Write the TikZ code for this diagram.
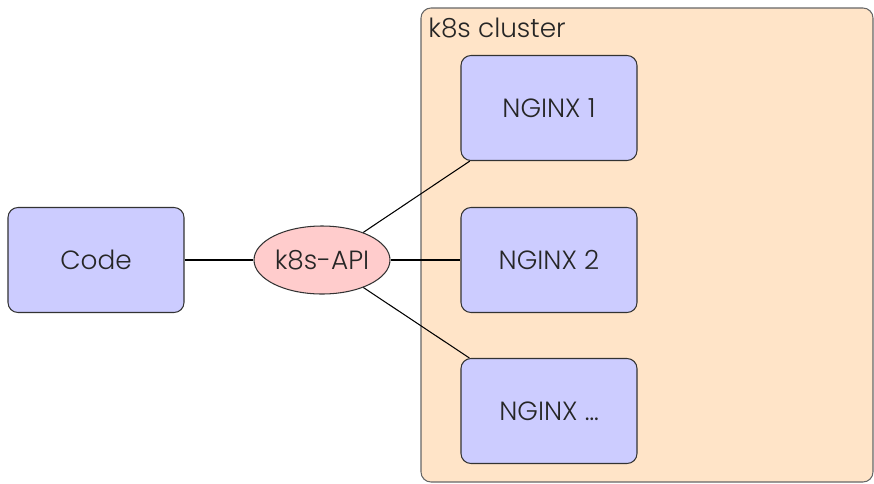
\documentclass[tikz,border=0pt]{standalone}
\usepackage{fontspec}
\setmainfont{Poppins}[UprightFont=* Light]
\usetikzlibrary{shapes.geometric}
\definecolor{boxblue}{HTML}{CCCCFF}
\definecolor{apipink}{HTML}{FFCCCC}
\definecolor{clusterpeach}{HTML}{FFE4C8}
\tikzset{
  podbox/.style={draw=black!80, fill=boxblue, rounded corners=0.2cm, minimum width=3.52cm, minimum height=2.1cm, line width=0.6pt},
  apinode/.style={ellipse, draw=black!80, fill=apipink, minimum width=2.72cm, minimum height=1.36cm, inner sep=0pt, line width=0.6pt},
  link/.style={line width=0.6pt}
}
\begin{document}
\begin{tikzpicture}[font=\fontsize{15}{18}\selectfont, text=black!85]
\useasboundingbox (0,0) rectangle (17.48,-9.66);
\draw[draw=black!60, fill=clusterpeach, rounded corners=0.2cm, line width=0.6pt] (8.42,-0.16) rectangle (17.46,-9.64);
\node[anchor=west, inner sep=0pt] (clusterlabel) at (8.56,-0.56){k8s cluster};
\node[podbox] (code) at (1.92,-5.2){Code};
\node[apinode] (api) at (6.44,-5.2){k8s-API};
\node[podbox] (nginx1) at (10.98,-2.16){NGINX 1};
\node[podbox] (nginx2) at (10.98,-5.2){NGINX 2};
\node[podbox] (nginx3) at (10.98,-8.22){NGINX \dots};
\draw[link](code) -- (api);
\draw[link](api) -- (nginx1);
\draw[link](api) -- (nginx2);
\draw[link](api) -- (nginx3);

\end{tikzpicture}
\end{document}
